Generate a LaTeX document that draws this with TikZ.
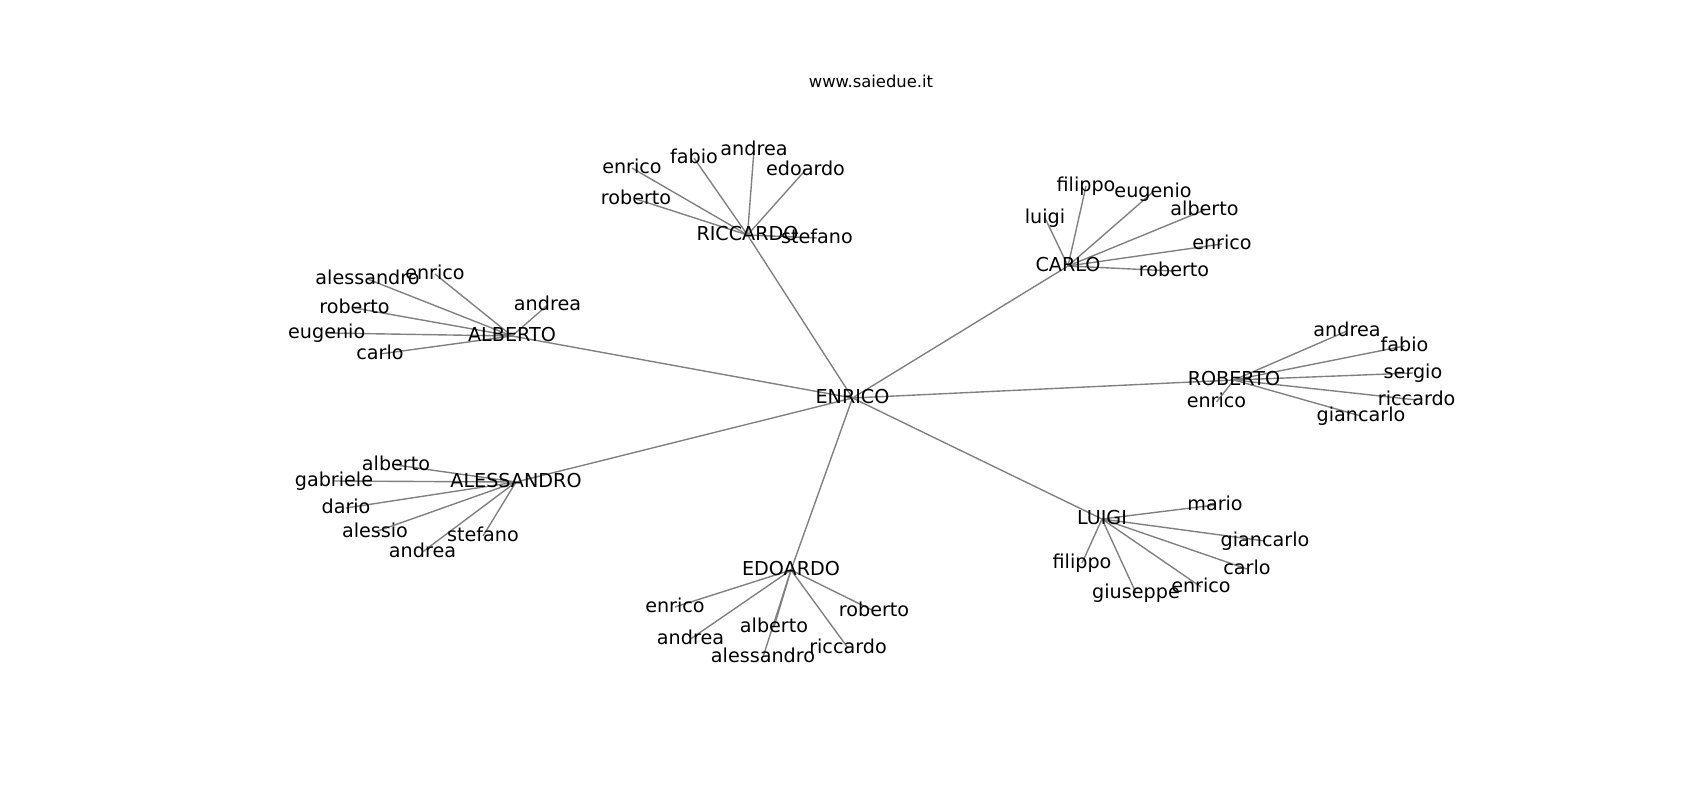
\documentclass[tikz,border=0pt]{standalone}
\usepackage{fontspec}
\setmainfont{DejaVu Sans}
\usetikzlibrary{backgrounds}
\definecolor{edgegray}{RGB}{128,128,128}
\tikzset{
  lbl/.style={font=\fontsize{13.8bp}{16bp}\selectfont, inner sep=0pt, text height=10.5bp, text depth=3.3bp, anchor=center},
  ttl/.style={font=\fontsize{11.8bp}{14bp}\selectfont, inner sep=0pt, anchor=base},
  edge/.style={draw=edgegray, line width=1bp}
}
\begin{document}
\begin{tikzpicture}[x=0.72bp, y=-0.72bp]
\useasboundingbox (0,0) rectangle (1700,800);
\node[ttl] (title) at (871,87.5) {www.saiedue.it};
% centre
\node[lbl] (ENR) at (852.5,398) {ENRICO};
% hubs
\node[lbl] (RIC) at (747.5,235) {RICCARDO};
\node[lbl] (CAR) at (1068,266) {CARLO};
\node[lbl] (ALB) at (512,336) {ALBERTO};
\node[lbl] (ROB) at (1234,380) {ROBERTO};
\node[lbl] (ALE) at (516,482) {ALESSANDRO};
\node[lbl] (LUI) at (1102,519) {LUIGI};
\node[lbl] (EDO) at (791,570) {EDOARDO};
% RICCARDO leaves
\node[lbl] (ric1) at (632,168) {enrico};
\node[lbl] (ric2) at (694,158) {fabio};
\node[lbl] (ric3) at (754,150) {andrea};
\node[lbl] (ric4) at (805.5,170) {edoardo};
\node[lbl] (ric5) at (636,199) {roberto};
\node[lbl] (ric6) at (817,238) {stefano};
% CARLO leaves
\node[lbl] (car1) at (1086,186) {filippo};
\node[lbl] (car2) at (1153,192) {eugenio};
\node[lbl] (car3) at (1204.5,210) {alberto};
\node[lbl] (car4) at (1045,218) {luigi};
\node[lbl] (car5) at (1222,244) {enrico};
\node[lbl] (car6) at (1174,271) {roberto};
% ALBERTO leaves
\node[lbl] (alb1) at (367.5,279) {alessandro};
\node[lbl] (alb2) at (435,274) {enrico};
\node[lbl] (alb3) at (547.5,305) {andrea};
\node[lbl] (alb4) at (354.5,308) {roberto};
\node[lbl] (alb5) at (326.7,333) {eugenio};
\node[lbl] (alb6) at (380,354) {carlo};
% ROBERTO leaves
\node[lbl] (rob1) at (1347,331) {andrea};
\node[lbl] (rob2) at (1404.5,346) {fabio};
\node[lbl] (rob3) at (1413,373) {sergio};
\node[lbl] (rob4) at (1416.7,400) {riccardo};
\node[lbl] (rob5) at (1361,416) {giancarlo};
\node[lbl] (rob6) at (1216.5,402) {enrico};
% ALESSANDRO leaves
\node[lbl] (ale1) at (396,465) {alberto};
\node[lbl] (ale2) at (334,481) {gabriele};
\node[lbl] (ale3) at (346,508) {dario};
\node[lbl] (ale4) at (375,532) {alessio};
\node[lbl] (ale5) at (483,536) {stefano};
\node[lbl] (ale6) at (422.5,552) {andrea};
% LUIGI leaves
\node[lbl] (lui1) at (1215,505) {mario};
\node[lbl] (lui2) at (1265,541) {giancarlo};
\node[lbl] (lui3) at (1247,569) {carlo};
\node[lbl] (lui4) at (1201,587) {enrico};
\node[lbl] (lui5) at (1136,593) {giuseppe};
\node[lbl] (lui6) at (1082,563) {filippo};
% EDOARDO leaves
\node[lbl] (edo1) at (675,607) {enrico};
\node[lbl] (edo2) at (690.5,639) {andrea};
\node[lbl] (edo3) at (774,627) {alberto};
\node[lbl] (edo4) at (763,657) {alessandro};
\node[lbl] (edo5) at (848,648) {riccardo};
\node[lbl] (edo6) at (874,611) {roberto};
\begin{pgfonlayer}{background}
\foreach \h in {RIC,CAR,ALB,ROB,ALE,LUI,EDO}
  \draw[edge] (ENR.center) -- (\h.center);
\foreach \l in {1,...,6} {
  \draw[edge] (RIC.center) -- (ric\l.center);
  \draw[edge] (CAR.center) -- (car\l.center);
  \draw[edge] (ALB.center) -- (alb\l.center);
  \draw[edge] (ROB.center) -- (rob\l.center);
  \draw[edge] (ALE.center) -- (ale\l.center);
  \draw[edge] (LUI.center) -- (lui\l.center);
  \draw[edge] (EDO.center) -- (edo\l.center);
}
\end{pgfonlayer}
\end{tikzpicture}
\end{document}
